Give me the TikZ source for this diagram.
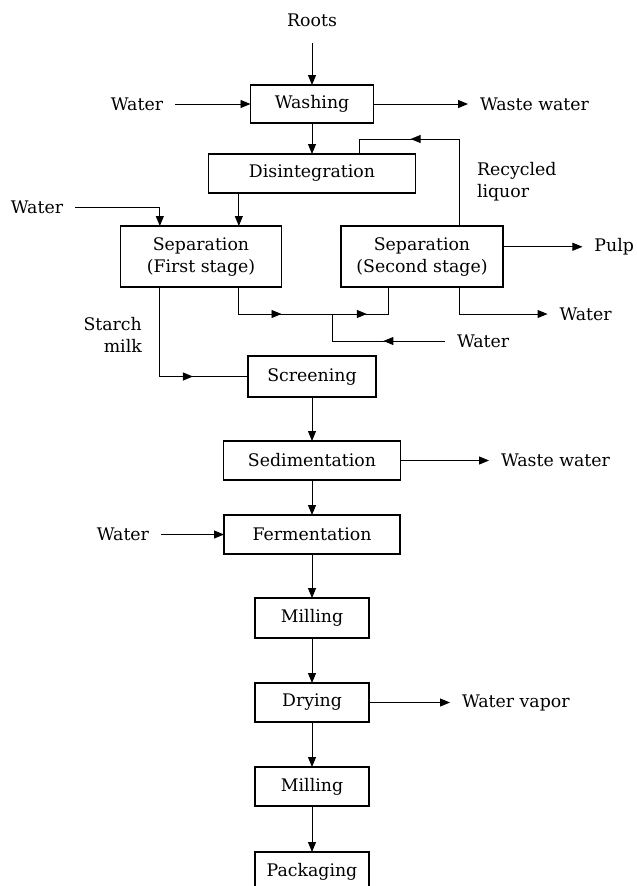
\documentclass[tikz,border=0pt]{standalone}
\usepackage{fontspec}
\setmainfont{DejaVu Serif}
\usetikzlibrary{arrows.meta,positioning,decorations.markings}

\begin{document}
\begin{tikzpicture}[
  node distance=33pt,
  font=\fontsize{13}{16.5}\selectfont,
  box/.style={rectangle, draw, line width=0.9pt, outer sep=0pt, align=center, minimum height=29.25pt, inner sep=2pt},
  ext/.style={inner xsep=9pt, inner ysep=2pt, outer sep=0pt, align=left},
  flow/.style={-{Triangle[length=7.5pt,width=6pt]}, line width=0.7pt},
  pipe/.style={line width=0.7pt},
  midarrow/.style={postaction={decorate}, decoration={markings, mark=at position #1 with {\arrow{Triangle[length=7.5pt,width=6pt]}}}},
  midarrow/.default=0.5
]
\useasboundingbox (0,0) rectangle (477pt,-664.5pt);

\node[box, minimum width=92.25pt, minimum height=28.5pt] (washing) at (234pt,-78pt) {Washing};
\node[box, minimum width=155.25pt, below=23.25pt of washing] (disint) {Disintegration};
\node[box, minimum width=120.75pt, minimum height=45.75pt, below=24.75pt of disint, xshift=-83.25pt] (sep1) {Separation\\(First stage)};
\node[box, minimum width=121.5pt, minimum height=45.75pt, below=24.75pt of disint, xshift=82.5pt] (sep2) {Separation\\(Second stage)};
\node[box, minimum width=96pt, minimum height=30.75pt, below=122.25pt of disint] (screen) {Screening};
\node[box, minimum width=132.75pt, below=of screen] (sedim) {Sedimentation};
\node[box, minimum width=132pt, below=26.25pt of sedim] (ferment) {Fermentation};
\node[box, minimum width=85.5pt, minimum height=30pt, below=of ferment] (mill1) {Milling};
\node[box, minimum width=85.5pt, below=33.75pt of mill1] (drying) {Drying};
\node[box, minimum width=85.5pt, below=33.75pt of drying] (mill2) {Milling};
\node[box, minimum width=85.5pt, below=34.5pt of mill2] (pack) {Packaging};

% inputs and outputs
\node[ext, above=42pt of washing] (roots) {Roots};
\node[ext, left=56.6pt of washing] (water1) {Water};
\node[ext, right=70.9pt of washing] (waste1) {Waste water};
\node[ext, anchor=east] (water2) at ([xshift=-34.1pt,yshift=13.9pt]sep1.north west) {Water};
\node[ext, right=59.6pt of sep2, yshift=7.3pt] (pulp) {Pulp};
\node[ext, right=66.4pt of sedim] (waste2) {Waste water};
\node[ext, left=47.25pt of ferment] (water5) {Water};
\node[ext, right=60.75pt of drying] (vapor) {Water vapor};

\coordinate (s1a) at ([xshift=29.5pt]sep1.north west);
\coordinate (s1c) at ([xshift=29.5pt]sep1.south west);
\coordinate (s1b) at ([xshift=-32pt]sep1.north east);
\coordinate (s1d) at ([xshift=-32pt]sep1.south east);
\coordinate (s2a) at ([xshift=-33pt]sep2.north east);
\coordinate (s2c) at ([xshift=-33pt]sep2.south east);
\coordinate (s2d) at ([xshift=35.25pt]sep2.south west);
\coordinate (rdrop) at ([xshift=-42.4pt]disint.north east);
\coordinate (rtop) at ([yshift=11.25pt]rdrop);
\coordinate (mid) at (sep1.south -| disint.south);
\coordinate (junc) at ([xshift=15pt,yshift=-20.25pt]mid);

\node[ext, anchor=west] (liquor) at ([xshift=4.5pt,yshift=33.5pt]s2a) {Recycled\\liquor};
\node[ext, anchor=west] (water3) at ([xshift=33.4pt,yshift=-20.25pt]sep2.south east) {Water};
\node[ext, anchor=west] (water4) at ([xshift=84.75pt,yshift=-20.25pt]junc) {Water};
\node[ext, align=right, anchor=east] (starch) at ([xshift=-4.5pt,yshift=-36pt]s1c) {Starch\\milk};

\draw[flow, shorten <=10.5pt] (roots) -- (washing);
\draw[flow] (water1) -- (washing);
\draw[flow] (washing) -- (waste1);
\draw[flow] (washing) -- (disint);
\draw[flow] (disint.south -| s1b) -- (s1b);
\draw[flow] (water2.east) -| (s1a);
\draw[pipe, midarrow=0.67] (s2a) |- (rtop) -- (rdrop);
\draw[flow] (sep2.east |- pulp) -- (pulp);
\draw[flow] (s2c) |- (water3);
\draw[pipe, midarrow=0.58] (s1d) |- (junc);
\draw[pipe, midarrow=0.42] (junc) -| (s2d);
\draw[pipe, midarrow=0.44] (water4) -| (junc);
\draw[pipe, midarrow=0.69] (s1c) |- (screen);

\draw[flow] (screen) -- (sedim);
\draw[flow] (sedim) -- (waste2);
\draw[flow] (sedim) -- (ferment);
\draw[flow] (water5) -- (ferment);
\draw[flow] (ferment) -- (mill1);
\draw[flow] (mill1) -- (drying);
\draw[flow] (drying) -- (vapor);
\draw[flow] (drying) -- (mill2);
\draw[flow] (mill2) -- (pack);

\end{tikzpicture}
\end{document}
